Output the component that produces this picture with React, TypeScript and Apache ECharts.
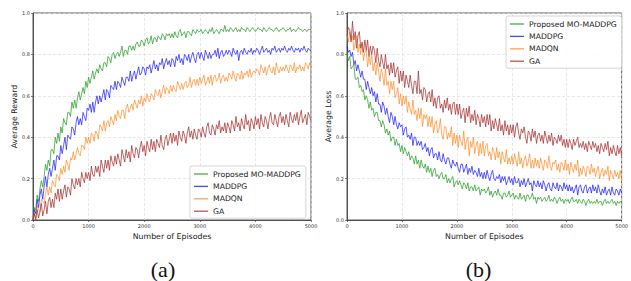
import React, { useEffect, useRef } from "react";
import * as echarts from "echarts";

// Sampling step of the curves (episodes between two points)
const EPISODE_STEP = 25;

const SERIES_NAMES = ["Proposed MO-MADDPG", "MADDPG", "MADQN", "GA"];
const X_TICKS = [0, 1000, 2000, 3000, 4000, 5000];
const Y_TICKS = [0.0, 0.2, 0.4, 0.6, 0.8, 1.0];

// (a) Average reward
const rewardProposed = [
  0.00, 0.06, 0.05, 0.12, 0.09, 0.15, 0.19, 0.16, 0.21, 0.27, 0.24, 0.29, 0.26, 0.34, 0.34, 0.32, 0.40, 0.37, 0.42, 0.38,
  0.45, 0.42, 0.49, 0.47, 0.46, 0.52, 0.52, 0.50, 0.57, 0.54, 0.58, 0.54, 0.59, 0.62, 0.58, 0.61, 0.64, 0.61, 0.67, 0.64,
  0.69, 0.66, 0.69, 0.72, 0.68, 0.71, 0.73, 0.71, 0.75, 0.73, 0.72, 0.76, 0.76, 0.74, 0.79, 0.78, 0.76, 0.80, 0.81, 0.78,
  0.80, 0.81, 0.79, 0.81, 0.84, 0.79, 0.82, 0.82, 0.80, 0.84, 0.84, 0.82, 0.84, 0.82, 0.85, 0.86, 0.84, 0.84, 0.87, 0.86,
  0.84, 0.87, 0.88, 0.85, 0.86, 0.89, 0.85, 0.88, 0.88, 0.86, 0.89, 0.88, 0.87, 0.90, 0.89, 0.87, 0.90, 0.89, 0.90, 0.88,
  0.90, 0.88, 0.91, 0.89, 0.88, 0.91, 0.92, 0.89, 0.90, 0.91, 0.88, 0.91, 0.91, 0.90, 0.89, 0.92, 0.91, 0.90, 0.92, 0.91,
  0.91, 0.92, 0.90, 0.91, 0.92, 0.91, 0.90, 0.92, 0.91, 0.93, 0.90, 0.91, 0.92, 0.91, 0.90, 0.92, 0.92, 0.91, 0.94, 0.91,
  0.92, 0.91, 0.93, 0.92, 0.91, 0.92, 0.93, 0.91, 0.92, 0.91, 0.93, 0.92, 0.92, 0.91, 0.93, 0.92, 0.91, 0.92, 0.93, 0.92,
  0.91, 0.92, 0.93, 0.92, 0.92, 0.91, 0.93, 0.92, 0.91, 0.92, 0.93, 0.92, 0.92, 0.91, 0.92, 0.93, 0.92, 0.91, 0.92, 0.92,
  0.93, 0.92, 0.91, 0.92, 0.92, 0.93, 0.91, 0.92, 0.92, 0.91, 0.92, 0.93, 0.92, 0.92, 0.91, 0.92, 0.92, 0.91, 0.92, 0.92,
  0.92,
];
const rewardMADDPG = [
  0.00, 0.05, 0.03, 0.10, 0.06, 0.12, 0.15, 0.10, 0.16, 0.21, 0.16, 0.22, 0.25, 0.21, 0.25, 0.29, 0.24, 0.31, 0.31, 0.29,
  0.36, 0.32, 0.36, 0.40, 0.34, 0.41, 0.40, 0.39, 0.45, 0.44, 0.41, 0.47, 0.50, 0.46, 0.49, 0.46, 0.52, 0.50, 0.48, 0.54,
  0.53, 0.56, 0.52, 0.57, 0.52, 0.57, 0.60, 0.56, 0.60, 0.57, 0.60, 0.63, 0.58, 0.63, 0.62, 0.59, 0.65, 0.64, 0.63, 0.67,
  0.63, 0.67, 0.66, 0.64, 0.69, 0.67, 0.65, 0.69, 0.69, 0.67, 0.72, 0.67, 0.70, 0.72, 0.68, 0.71, 0.74, 0.70, 0.71, 0.74,
  0.73, 0.70, 0.74, 0.73, 0.75, 0.71, 0.74, 0.77, 0.73, 0.75, 0.72, 0.76, 0.75, 0.78, 0.73, 0.76, 0.78, 0.75, 0.77, 0.74,
  0.78, 0.77, 0.74, 0.79, 0.77, 0.80, 0.76, 0.78, 0.75, 0.80, 0.79, 0.77, 0.80, 0.76, 0.79, 0.81, 0.78, 0.76, 0.80, 0.81,
  0.78, 0.81, 0.79, 0.77, 0.82, 0.80, 0.78, 0.81, 0.78, 0.80, 0.80, 0.82, 0.79, 0.83, 0.78, 0.81, 0.82, 0.79, 0.80, 0.82,
  0.80, 0.82, 0.81, 0.79, 0.83, 0.81, 0.80, 0.82, 0.77, 0.81, 0.82, 0.80, 0.83, 0.81, 0.80, 0.82, 0.81, 0.83, 0.80, 0.82,
  0.81, 0.83, 0.82, 0.80, 0.82, 0.84, 0.81, 0.82, 0.83, 0.81, 0.82, 0.80, 0.83, 0.82, 0.84, 0.81, 0.82, 0.83, 0.81, 0.83,
  0.82, 0.84, 0.82, 0.81, 0.83, 0.82, 0.84, 0.82, 0.81, 0.83, 0.82, 0.83, 0.81, 0.83, 0.82, 0.84, 0.82, 0.81, 0.83, 0.82,
  0.82,
];
const rewardMADQN = [
  0.00, 0.03, 0.01, 0.07, 0.05, 0.04, 0.10, 0.09, 0.08, 0.13, 0.16, 0.12, 0.16, 0.13, 0.19, 0.17, 0.16, 0.22, 0.21, 0.19,
  0.25, 0.22, 0.26, 0.23, 0.29, 0.27, 0.24, 0.30, 0.29, 0.33, 0.29, 0.32, 0.35, 0.32, 0.31, 0.36, 0.36, 0.34, 0.40, 0.37,
  0.40, 0.37, 0.42, 0.41, 0.38, 0.43, 0.42, 0.39, 0.46, 0.45, 0.43, 0.48, 0.43, 0.47, 0.48, 0.45, 0.50, 0.48, 0.46, 0.51,
  0.48, 0.53, 0.50, 0.49, 0.53, 0.53, 0.49, 0.54, 0.56, 0.52, 0.54, 0.56, 0.53, 0.58, 0.56, 0.54, 0.58, 0.56, 0.60, 0.55,
  0.59, 0.57, 0.61, 0.58, 0.57, 0.61, 0.60, 0.58, 0.63, 0.61, 0.60, 0.63, 0.59, 0.62, 0.65, 0.61, 0.64, 0.63, 0.61, 0.65,
  0.62, 0.65, 0.63, 0.62, 0.67, 0.65, 0.63, 0.66, 0.63, 0.66, 0.67, 0.64, 0.65, 0.69, 0.64, 0.67, 0.68, 0.65, 0.68, 0.65,
  0.69, 0.66, 0.68, 0.70, 0.65, 0.67, 0.69, 0.66, 0.70, 0.65, 0.69, 0.70, 0.67, 0.68, 0.71, 0.66, 0.69, 0.70, 0.67, 0.69,
  0.67, 0.71, 0.70, 0.68, 0.72, 0.69, 0.67, 0.71, 0.70, 0.68, 0.72, 0.68, 0.71, 0.70, 0.72, 0.69, 0.73, 0.69, 0.71, 0.72,
  0.71, 0.73, 0.72, 0.70, 0.75, 0.73, 0.71, 0.74, 0.70, 0.73, 0.75, 0.72, 0.71, 0.74, 0.70, 0.76, 0.73, 0.71, 0.74, 0.72,
  0.74, 0.72, 0.75, 0.73, 0.71, 0.75, 0.74, 0.72, 0.76, 0.71, 0.74, 0.73, 0.75, 0.72, 0.74, 0.72, 0.76, 0.75, 0.73, 0.76,
  0.74,
];
const rewardGA = [
  0.00, 0.03, 0.00, 0.05, 0.01, 0.04, 0.08, 0.02, 0.05, 0.09, 0.03, 0.09, 0.11, 0.06, 0.10, 0.06, 0.13, 0.10, 0.15, 0.09,
  0.15, 0.10, 0.14, 0.17, 0.11, 0.16, 0.15, 0.12, 0.20, 0.17, 0.15, 0.20, 0.17, 0.20, 0.16, 0.23, 0.20, 0.18, 0.23, 0.20,
  0.23, 0.19, 0.26, 0.22, 0.21, 0.26, 0.23, 0.26, 0.21, 0.29, 0.26, 0.23, 0.29, 0.25, 0.29, 0.24, 0.31, 0.28, 0.26, 0.31,
  0.27, 0.32, 0.29, 0.26, 0.34, 0.31, 0.28, 0.34, 0.30, 0.33, 0.28, 0.36, 0.32, 0.30, 0.35, 0.34, 0.30, 0.35, 0.38, 0.33,
  0.36, 0.31, 0.38, 0.35, 0.33, 0.39, 0.34, 0.38, 0.33, 0.39, 0.37, 0.35, 0.41, 0.36, 0.34, 0.39, 0.41, 0.36, 0.39, 0.42,
  0.37, 0.42, 0.38, 0.41, 0.36, 0.43, 0.40, 0.38, 0.43, 0.41, 0.37, 0.42, 0.45, 0.40, 0.43, 0.39, 0.44, 0.41, 0.39, 0.44,
  0.43, 0.40, 0.45, 0.42, 0.40, 0.45, 0.47, 0.42, 0.41, 0.46, 0.44, 0.41, 0.46, 0.44, 0.48, 0.42, 0.45, 0.43, 0.47, 0.42,
  0.47, 0.45, 0.42, 0.48, 0.46, 0.43, 0.50, 0.45, 0.47, 0.43, 0.49, 0.46, 0.44, 0.51, 0.46, 0.48, 0.43, 0.49, 0.47, 0.44,
  0.50, 0.46, 0.49, 0.44, 0.51, 0.47, 0.45, 0.50, 0.48, 0.44, 0.49, 0.52, 0.47, 0.46, 0.51, 0.48, 0.45, 0.50, 0.52, 0.47,
  0.50, 0.46, 0.51, 0.48, 0.45, 0.52, 0.49, 0.47, 0.51, 0.48, 0.52, 0.46, 0.50, 0.53, 0.47, 0.49, 0.51, 0.46, 0.52, 0.50,
  0.48,
];

// (b) Average loss
const lossProposed = [
  0.81, 0.77, 0.79, 0.73, 0.74, 0.75, 0.68, 0.68, 0.69, 0.64, 0.65, 0.62, 0.63, 0.58, 0.60, 0.58, 0.54, 0.57, 0.53, 0.54,
  0.50, 0.52, 0.52, 0.48, 0.48, 0.45, 0.48, 0.46, 0.42, 0.44, 0.41, 0.43, 0.38, 0.40, 0.40, 0.36, 0.39, 0.36, 0.37, 0.33,
  0.36, 0.32, 0.35, 0.33, 0.31, 0.33, 0.29, 0.31, 0.30, 0.27, 0.31, 0.27, 0.29, 0.25, 0.29, 0.26, 0.25, 0.27, 0.23, 0.26,
  0.23, 0.25, 0.21, 0.24, 0.25, 0.21, 0.22, 0.20, 0.22, 0.23, 0.20, 0.20, 0.22, 0.18, 0.20, 0.18, 0.20, 0.21, 0.16, 0.18,
  0.19, 0.17, 0.19, 0.17, 0.15, 0.18, 0.17, 0.15, 0.18, 0.14, 0.16, 0.16, 0.14, 0.17, 0.14, 0.15, 0.16, 0.12, 0.15, 0.14,
  0.15, 0.13, 0.14, 0.16, 0.12, 0.14, 0.11, 0.13, 0.14, 0.12, 0.15, 0.12, 0.12, 0.10, 0.13, 0.13, 0.11, 0.12, 0.14, 0.11,
  0.12, 0.13, 0.10, 0.12, 0.11, 0.10, 0.13, 0.10, 0.11, 0.12, 0.09, 0.12, 0.12, 0.10, 0.11, 0.13, 0.10, 0.11, 0.08, 0.11,
  0.10, 0.11, 0.09, 0.10, 0.11, 0.09, 0.10, 0.12, 0.09, 0.10, 0.09, 0.11, 0.10, 0.08, 0.10, 0.11, 0.09, 0.10, 0.08, 0.10,
  0.09, 0.10, 0.08, 0.10, 0.11, 0.09, 0.09, 0.10, 0.08, 0.10, 0.09, 0.08, 0.10, 0.09, 0.07, 0.09, 0.10, 0.08, 0.09, 0.08,
  0.09, 0.08, 0.10, 0.08, 0.09, 0.09, 0.07, 0.09, 0.10, 0.08, 0.09, 0.08, 0.09, 0.10, 0.08, 0.09, 0.07, 0.09, 0.08, 0.09,
  0.08,
];
const lossMADDPG = [
  0.84, 0.81, 0.82, 0.79, 0.81, 0.75, 0.77, 0.72, 0.75, 0.72, 0.69, 0.72, 0.68, 0.68, 0.63, 0.67, 0.64, 0.61, 0.64, 0.60,
  0.62, 0.57, 0.61, 0.56, 0.56, 0.52, 0.57, 0.55, 0.51, 0.54, 0.50, 0.47, 0.52, 0.50, 0.46, 0.50, 0.46, 0.44, 0.47, 0.45,
  0.46, 0.41, 0.44, 0.45, 0.40, 0.41, 0.39, 0.42, 0.36, 0.40, 0.40, 0.36, 0.38, 0.36, 0.38, 0.34, 0.35, 0.37, 0.33, 0.35,
  0.31, 0.34, 0.35, 0.30, 0.32, 0.32, 0.29, 0.33, 0.29, 0.28, 0.32, 0.29, 0.27, 0.30, 0.30, 0.27, 0.25, 0.29, 0.27, 0.26,
  0.28, 0.25, 0.23, 0.27, 0.27, 0.23, 0.25, 0.27, 0.22, 0.25, 0.23, 0.26, 0.22, 0.24, 0.23, 0.21, 0.25, 0.21, 0.23, 0.20,
  0.23, 0.20, 0.24, 0.21, 0.19, 0.22, 0.24, 0.20, 0.19, 0.21, 0.20, 0.22, 0.18, 0.21, 0.19, 0.21, 0.17, 0.19, 0.21, 0.18,
  0.20, 0.17, 0.21, 0.18, 0.18, 0.20, 0.16, 0.19, 0.17, 0.20, 0.16, 0.18, 0.20, 0.17, 0.18, 0.14, 0.19, 0.17, 0.16, 0.19,
  0.16, 0.18, 0.15, 0.19, 0.17, 0.14, 0.17, 0.18, 0.15, 0.14, 0.18, 0.16, 0.15, 0.18, 0.14, 0.17, 0.16, 0.14, 0.18, 0.15,
  0.17, 0.14, 0.17, 0.14, 0.16, 0.13, 0.15, 0.17, 0.12, 0.16, 0.17, 0.14, 0.13, 0.16, 0.17, 0.13, 0.15, 0.16, 0.13, 0.17,
  0.14, 0.16, 0.13, 0.17, 0.14, 0.12, 0.15, 0.13, 0.16, 0.12, 0.14, 0.15, 0.12, 0.16, 0.13, 0.12, 0.15, 0.14, 0.12, 0.15,
  0.13,
];
const lossMADQN = [
  0.90, 0.86, 0.91, 0.87, 0.89, 0.82, 0.86, 0.89, 0.81, 0.85, 0.80, 0.85, 0.77, 0.81, 0.82, 0.74, 0.79, 0.75, 0.80, 0.72,
  0.76, 0.70, 0.76, 0.72, 0.67, 0.73, 0.70, 0.65, 0.73, 0.65, 0.67, 0.61, 0.67, 0.63, 0.67, 0.59, 0.61, 0.64, 0.56, 0.61,
  0.55, 0.60, 0.56, 0.60, 0.52, 0.57, 0.54, 0.51, 0.58, 0.51, 0.53, 0.48, 0.54, 0.49, 0.54, 0.45, 0.51, 0.49, 0.51, 0.45,
  0.50, 0.45, 0.50, 0.42, 0.46, 0.48, 0.42, 0.44, 0.49, 0.41, 0.39, 0.45, 0.45, 0.39, 0.42, 0.40, 0.45, 0.36, 0.42, 0.37,
  0.41, 0.35, 0.41, 0.38, 0.36, 0.43, 0.34, 0.38, 0.40, 0.31, 0.38, 0.35, 0.40, 0.32, 0.36, 0.38, 0.31, 0.37, 0.32, 0.38,
  0.31, 0.36, 0.37, 0.31, 0.33, 0.29, 0.35, 0.33, 0.29, 0.35, 0.30, 0.33, 0.27, 0.33, 0.30, 0.28, 0.34, 0.27, 0.30, 0.27,
  0.31, 0.27, 0.32, 0.29, 0.26, 0.33, 0.27, 0.30, 0.25, 0.29, 0.31, 0.26, 0.28, 0.32, 0.25, 0.29, 0.25, 0.30, 0.26, 0.29,
  0.25, 0.30, 0.27, 0.24, 0.29, 0.28, 0.25, 0.31, 0.26, 0.24, 0.28, 0.27, 0.29, 0.24, 0.27, 0.23, 0.28, 0.27, 0.24, 0.29,
  0.24, 0.27, 0.22, 0.28, 0.25, 0.23, 0.27, 0.24, 0.29, 0.21, 0.25, 0.22, 0.26, 0.24, 0.21, 0.26, 0.25, 0.22, 0.27, 0.23,
  0.25, 0.21, 0.24, 0.26, 0.20, 0.23, 0.25, 0.21, 0.24, 0.22, 0.26, 0.19, 0.24, 0.22, 0.20, 0.24, 0.21, 0.23, 0.20, 0.24,
  0.19,
];
const lossGA = [
  0.89, 0.93, 0.92, 0.86, 0.96, 0.87, 0.91, 0.83, 0.89, 0.91, 0.83, 0.86, 0.81, 0.87, 0.82, 0.87, 0.79, 0.84, 0.80, 0.84,
  0.82, 0.76, 0.83, 0.77, 0.74, 0.80, 0.76, 0.73, 0.80, 0.73, 0.75, 0.70, 0.76, 0.71, 0.76, 0.69, 0.72, 0.74, 0.66, 0.72,
  0.67, 0.72, 0.64, 0.70, 0.67, 0.64, 0.70, 0.65, 0.61, 0.67, 0.67, 0.61, 0.72, 0.61, 0.63, 0.58, 0.64, 0.63, 0.57, 0.61,
  0.62, 0.57, 0.63, 0.55, 0.59, 0.54, 0.59, 0.60, 0.54, 0.56, 0.52, 0.58, 0.54, 0.59, 0.53, 0.56, 0.51, 0.56, 0.57, 0.51,
  0.56, 0.51, 0.56, 0.49, 0.52, 0.54, 0.47, 0.54, 0.50, 0.55, 0.47, 0.51, 0.48, 0.53, 0.46, 0.51, 0.49, 0.45, 0.51, 0.47,
  0.50, 0.45, 0.51, 0.46, 0.51, 0.43, 0.48, 0.44, 0.49, 0.46, 0.43, 0.49, 0.43, 0.46, 0.41, 0.48, 0.43, 0.46, 0.41, 0.46,
  0.42, 0.46, 0.40, 0.45, 0.47, 0.42, 0.39, 0.44, 0.42, 0.45, 0.40, 0.37, 0.43, 0.42, 0.38, 0.44, 0.40, 0.43, 0.37, 0.41,
  0.42, 0.38, 0.41, 0.37, 0.43, 0.40, 0.37, 0.41, 0.38, 0.42, 0.36, 0.40, 0.39, 0.37, 0.41, 0.38, 0.41, 0.36, 0.39, 0.35,
  0.39, 0.35, 0.39, 0.37, 0.34, 0.39, 0.36, 0.38, 0.40, 0.35, 0.37, 0.35, 0.38, 0.34, 0.37, 0.33, 0.38, 0.36, 0.34, 0.38,
  0.35, 0.37, 0.33, 0.36, 0.32, 0.37, 0.35, 0.33, 0.37, 0.34, 0.38, 0.31, 0.35, 0.32, 0.36, 0.33, 0.31, 0.36, 0.32, 0.35,
  0.31,
];

const COLORS = ["#2ca02c", "#1a1aff", "#ff7f0e", "#a52a2a"];
const OPACITY = [0.85, 0.8, 0.7, 0.8];
const FONT = "DejaVu Sans";

const toPairs = (vals: number[]) => vals.map((v, i) => [i * EPISODE_STEP, v]);

export default function App() {
  const ref = useRef<HTMLDivElement>(null);
  useEffect(() => {
    if (!ref.current) return;
    const chart = echarts.init(ref.current, undefined, { renderer: "svg" });

    const grids = [
      { left: 33, top: 13, width: 278, height: 207 },
      { left: 347, top: 13, width: 279, height: 207 },
    ].map((g) => ({
      ...g,
      show: true,
      borderColor: "#333",
      borderWidth: 0.8,
      backgroundColor: "transparent",
    }));

    const xAxisBase = (gridIndex: number) => ({
      type: "value",
      gridIndex,
      min: X_TICKS[0],
      max: X_TICKS[X_TICKS.length - 1],
      interval: 1000,
      name: "Number of Episodes",
      nameLocation: "middle",
      nameGap: 10,
      nameTextStyle: { fontFamily: FONT, fontSize: 7.8, color: "#222" },
      axisLine: { show: true, lineStyle: { color: "#333", width: 0.8 } },
      axisTick: { show: true, length: 2, lineStyle: { color: "#333", width: 0.6 } },
      axisLabel: {
        fontFamily: FONT,
        fontSize: 5,
        color: "#333",
        margin: 3,
        formatter: (v: number) => String(v),
      },
      splitLine: { show: true, lineStyle: { color: "#dcdcdc", width: 0.7, type: [3, 2] } },
    });
    const yAxisBase = (gridIndex: number, name: string) => ({
      type: "value",
      gridIndex,
      min: Y_TICKS[0],
      max: Y_TICKS[Y_TICKS.length - 1],
      interval: 0.2,
      name,
      nameLocation: "middle",
      nameGap: 15,
      nameTextStyle: { fontFamily: FONT, fontSize: 7.8, color: "#222" },
      axisLine: { show: true, lineStyle: { color: "#333", width: 0.8 } },
      axisTick: { show: true, length: 2, lineStyle: { color: "#333", width: 0.6 } },
      axisLabel: {
        fontFamily: FONT,
        fontSize: 5,
        color: "#333",
        margin: 3,
        formatter: (v: number) => v.toFixed(1),
      },
      splitLine: { show: true, lineStyle: { color: "#dcdcdc", width: 0.7, type: [3, 2] } },
    });

    const rewardData = [rewardProposed, rewardMADDPG, rewardMADQN, rewardGA];
    const lossData = [lossProposed, lossMADDPG, lossMADQN, lossGA];

    const mkSeries = (data: number[][], idx: number) =>
      data.map((vals, k) => ({
        type: "line",
        name: SERIES_NAMES[k],
        xAxisIndex: idx,
        yAxisIndex: idx,
        data: toPairs(vals),
        showSymbol: false,
        symbol: "none",
        lineStyle: { color: COLORS[k], width: 0.9, opacity: OPACITY[k] },
        itemStyle: { color: COLORS[k], opacity: OPACITY[k] },
        z: 2 + k,
      }));

    const legendBase = {
      orient: "vertical",
      data: SERIES_NAMES,
      icon: "rect",
      itemWidth: 14,
      itemHeight: 1.3,
      itemGap: 4.4,
      padding: [4, 5, 3, 4],
      borderColor: "#cccccc",
      borderWidth: 0.8,
      borderRadius: 2,
      backgroundColor: "rgba(255,255,255,0.85)",
      textStyle: { fontFamily: FONT, fontSize: 7.7, color: "#222", lineHeight: 7.6 },
      selectedMode: false,
    };

    chart.setOption({
      animation: false,
      backgroundColor: "#ffffff",
      grid: grids,
      xAxis: [xAxisBase(0), xAxisBase(1)],
      yAxis: [yAxisBase(0, "Average Reward"), yAxisBase(1, "Average Loss")],
      legend: [
        { ...legendBase, left: 190, top: 166 },
        { ...legendBase, left: 506, top: 16 },
      ],
      series: [...mkSeries(rewardData, 0), ...mkSeries(lossData, 1)],
      graphic: [
        {
          type: "text",
          x: 163,
          y: 269,
          style: {
            text: "(a)",
            font: '22px "Liberation Serif"',
            fill: "#111",
            align: "center",
            verticalAlign: "middle",
          },
        },
        {
          type: "text",
          x: 478.5,
          y: 269,
          style: {
            text: "(b)",
            font: '22px "Liberation Serif"',
            fill: "#111",
            align: "center",
            verticalAlign: "middle",
          },
        },
      ],
    });
    return () => chart.dispose();
  }, []);

  return (
    <div
      ref={ref}
      style={{ position: "fixed", left: 0, top: 0, width: 631, height: 281, background: "#fff" }}
    />
  );
}
